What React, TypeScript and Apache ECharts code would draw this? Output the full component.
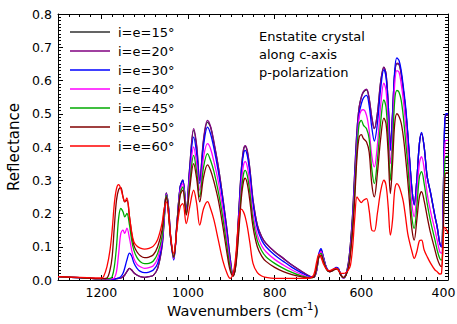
import React, { useEffect, useRef } from 'react';
import * as echarts from 'echarts';

const FONT = 'DejaVu Sans';

const seriesNames = ['i=e=15°', 'i=e=20°', 'i=e=30°', 'i=e=40°', 'i=e=45°', 'i=e=50°', 'i=e=60°'];
const seriesColors = ['#303030', '#800080', '#0000ff', '#ff00ff', '#00aa00', '#800000', '#ff0000'];
const xTicks = [400, 600, 800, 1000, 1200];
const yTicks = [0, 0.1, 0.2, 0.3, 0.4, 0.5, 0.6, 0.7, 0.8];

const wn = [
  1300, 1250, 1200, 1195, 1187, 1180, 1175, 1170, 1165, 1160,
  1155, 1150, 1146, 1141, 1135, 1130, 1125, 1118, 1110, 1100,
  1090, 1080, 1070, 1060, 1055, 1050, 1045, 1040, 1033, 1025,
  1018, 1012, 1004, 996, 987, 980, 973, 964, 955, 948,
  940, 930, 920, 910, 903, 896, 890, 883, 877, 872,
  868, 863, 857, 850, 840, 830, 820, 800, 780, 760,
  740, 720, 710, 703, 698, 693, 688, 680, 673, 665,
  658, 653, 647, 641, 636, 630, 625, 620, 615, 610,
  605, 600, 595, 588, 582, 576, 570, 563, 555, 548,
  543, 538, 533, 528, 523, 518, 513, 508, 503, 498,
  493, 488, 483, 478, 472, 466, 461, 455, 448, 440,
  430, 425, 419, 415, 411, 408, 405, 400,
];

const r15 = [
  .010, .007, .004, .004, .003, .003, .003, .003, .004, .005,
  .006, .010, .015, .025, .035, .030, .022, .015, .010, .008,
  .010, .014, .035, .100, .180, .262, .220, .130, .065, .180,
  .280, .300, .210, .340, .450, .400, .300, .420, .475, .460,
  .410, .340, .250, .150, .070, .015, .050, .200, .330, .390,
  .402, .385, .330, .240, .165, .130, .110, .085, .065, .045,
  .028, .012, .008, .030, .075, .090, .070, .035, .025, .030,
  .036, .034, .015, .006, .015, .050, .110, .200, .330, .450,
  .520, .550, .565, .572, .545, .490, .455, .500, .600, .640,
  .620, .530, .405, .500, .620, .650, .648, .620, .570, .515,
  .440, .350, .270, .228, .300, .410, .440, .400, .310, .260,
  .190, .160, .110, .100, .250, .450, .495, .495,
];

const r20 = [
  .010, .007, .004, .004, .003, .003, .003, .003, .004, .005,
  .006, .010, .015, .025, .035, .030, .022, .015, .010, .008,
  .010, .014, .035, .100, .180, .262, .220, .130, .065, .180,
  .280, .300, .210, .340, .455, .405, .300, .425, .480, .462,
  .415, .340, .250, .150, .070, .015, .050, .200, .330, .392,
  .404, .388, .332, .242, .165, .130, .110, .085, .065, .045,
  .028, .012, .008, .030, .075, .090, .070, .035, .025, .030,
  .036, .034, .015, .006, .015, .050, .110, .200, .330, .450,
  .520, .550, .567, .574, .547, .490, .455, .500, .600, .640,
  .620, .530, .405, .500, .620, .652, .650, .620, .570, .515,
  .440, .350, .270, .228, .300, .410, .440, .400, .310, .260,
  .190, .160, .110, .100, .250, .450, .495, .495,
];

const r30 = [
  .010, .007, .004, .004, .003, .003, .003, .003, .004, .006,
  .010, .020, .036, .060, .081, .072, .052, .036, .026, .022,
  .024, .030, .050, .110, .185, .260, .215, .125, .060, .175,
  .280, .300, .210, .330, .430, .380, .290, .405, .460, .440,
  .395, .325, .240, .140, .060, .013, .048, .190, .320, .378,
  .390, .373, .318, .230, .155, .120, .100, .075, .056, .038,
  .023, .010, .008, .030, .078, .094, .072, .036, .025, .031,
  .038, .035, .015, .006, .014, .045, .100, .185, .310, .430,
  .500, .530, .548, .555, .525, .460, .418, .470, .580, .633,
  .610, .520, .390, .490, .630, .668, .660, .630, .580, .525,
  .445, .355, .270, .225, .300, .410, .444, .400, .311, .262,
  .192, .160, .110, .100, .250, .460, .500, .500,
];

const r40 = [
  .010, .007, .004, .004, .003, .003, .004, .006, .025, .080,
  .140, .150, .140, .156, .125, .090, .065, .048, .040, .035,
  .037, .043, .065, .120, .190, .258, .210, .125, .065, .175,
  .270, .290, .205, .310, .400, .350, .270, .370, .410, .395,
  .355, .295, .215, .120, .050, .012, .045, .170, .290, .345,
  .356, .340, .285, .200, .135, .103, .085, .062, .045, .030,
  .018, .008, .008, .030, .072, .085, .066, .034, .025, .030,
  .035, .032, .014, .006, .014, .040, .090, .170, .290, .410,
  .490, .510, .512, .495, .450, .375, .340, .405, .530, .592,
  .570, .470, .350, .440, .590, .630, .625, .590, .540, .470,
  .390, .300, .225, .190, .260, .350, .371, .335, .260, .205,
  .150, .120, .085, .080, .200, .380, .420, .420,
];

const r45 = [
  .010, .007, .004, .004, .004, .005, .010, .040, .100, .187,
  .215, .205, .190, .200, .165, .120, .090, .068, .055, .049,
  .050, .057, .080, .130, .200, .255, .205, .125, .068, .170,
  .260, .280, .200, .290, .375, .325, .250, .340, .380, .360,
  .325, .265, .190, .100, .040, .012, .042, .155, .265, .318,
  .330, .313, .260, .180, .118, .088, .070, .050, .035, .023,
  .013, .007, .008, .035, .070, .080, .062, .032, .025, .029,
  .034, .031, .014, .007, .013, .037, .085, .160, .270, .390,
  .470, .480, .465, .455, .425, .335, .290, .360, .480, .542,
  .520, .420, .300, .400, .540, .570, .565, .540, .490, .420,
  .350, .260, .185, .155, .220, .310, .326, .290, .230, .175,
  .120, .090, .065, .060, .170, .330, .372, .372,
];

const r50 = [
  .010, .007, .004, .004, .006, .030, .070, .160, .240, .272,
  .278, .250, .235, .240, .190, .140, .105, .085, .073, .067,
  .069, .076, .100, .150, .210, .250, .200, .125, .070, .170,
  .255, .270, .195, .275, .350, .305, .235, .310, .346, .330,
  .295, .240, .165, .080, .030, .012, .040, .140, .245, .295,
  .306, .288, .235, .160, .100, .072, .056, .038, .025, .016,
  .010, .006, .008, .040, .068, .075, .058, .031, .025, .029,
  .033, .030, .014, .008, .013, .035, .080, .150, .250, .370,
  .430, .437, .425, .415, .385, .290, .250, .320, .430, .487,
  .470, .380, .260, .350, .470, .500, .492, .472, .430, .370,
  .300, .220, .150, .120, .180, .250, .266, .238, .190, .140,
  .090, .065, .045, .040, .140, .280, .322, .322,
];

const r60 = [
  .010, .008, .006, .010, .040, .090, .150, .230, .275, .287,
  .275, .250, .236, .247, .190, .145, .115, .102, .096, .093,
  .095, .102, .122, .170, .215, .235, .200, .130, .080, .160,
  .220, .230, .170, .220, .270, .230, .165, .215, .236, .215,
  .180, .120, .060, .020, .005, .020, .070, .180, .213, .205,
  .190, .160, .110, .050, .022, .012, .008, .005, .005, .005,
  .005, .006, .015, .055, .077, .068, .050, .032, .028, .033,
  .036, .030, .020, .020, .022, .030, .045, .100, .190, .250,
  .240, .233, .240, .245, .210, .150, .147, .200, .270, .300,
  .285, .220, .135, .180, .270, .290, .282, .262, .235, .190,
  .140, .110, .085, .065, .085, .118, .120, .090, .070, .050,
  .030, .025, .018, .020, .120, .158, .155, .140,
];

const allSeries = [r15, r20, r30, r40, r45, r50, r60];

export default function App() {
  const ref = useRef<HTMLDivElement>(null);
  useEffect(() => {
    const chart = echarts.init(ref.current!, null, { renderer: 'svg' });
    const axisLine = { show: true, onZero: false, lineStyle: { color: '#000', width: 1 } };
    const tick = { show: true, inside: true, length: 5, lineStyle: { color: '#000', width: 1 } };
    const xMinor = { show: true, splitNumber: 8, length: 3, lineStyle: { color: '#000', width: 1 } };
    const yMinor = { show: true, splitNumber: 10, length: 3, lineStyle: { color: '#000', width: 1 } };
    const xCommon = {
      type: 'value', min: 400, max: 1300, interval: 200, inverse: true,
      axisLine, axisTick: tick, minorTick: xMinor,
      splitLine: { show: false }, minorSplitLine: { show: false },
    };
    const yCommon = {
      type: 'value', min: 0, max: 0.8, interval: 0.1,
      axisLine, axisTick: tick, minorTick: yMinor,
      splitLine: { show: false }, minorSplitLine: { show: false },
    };
    chart.setOption({
      animation: false,
      backgroundColor: '#fff',
      grid: { left: 58, right: 9, top: 14, bottom: 44, outerBoundsMode: 'none' },
      legend: {
        show: true, orient: 'vertical', left: 70, top: 25, padding: 0,
        itemWidth: 40, itemHeight: 14, itemGap: 5,
        icon: 'path://M0,0 M40,14 M0,6.25 L40,6.25 L40,7.75 L0,7.75 Z',
        data: seriesNames,
        textStyle: { fontSize: 13, fontFamily: FONT, color: '#000', padding: [0, 0, 0, 3] },
      },
      xAxis: [
        {
          ...xCommon, position: 'bottom',
          axisLabel: {
            show: true, margin: 6, fontSize: 12.5, fontFamily: FONT, color: '#000',
            formatter: (v: number) => {
              if (xTicks.indexOf(v) < 0) return '';
              return v === 400 ? '{e|' + v + '}' : String(v);
            },
            rich: {
              e: { fontSize: 12.5, fontFamily: FONT, color: '#000', padding: [0, 9, 0, 0] },
            },
          },
        },
        { ...xCommon, position: 'top', axisLabel: { show: false } },
      ],
      yAxis: [
        {
          ...yCommon, position: 'left',
          name: 'Reflectance', nameLocation: 'middle', nameGap: 36,
          nameTextStyle: { fontSize: 15, fontFamily: FONT, color: '#000' },
          axisLabel: {
            show: true, margin: 6, fontSize: 12.5, fontFamily: FONT, color: '#000',
            formatter: (v: number) => {
              const t = yTicks.find((y) => Math.abs(y - v) < 1e-6);
              return t === undefined ? '' : t.toFixed(1);
            },
          },
        },
        { ...yCommon, position: 'right', axisLabel: { show: false } },
      ],
      graphic: [
        {
          type: 'text', left: 259, top: 27,
          style: {
            text: 'Enstatite crystal\nalong c-axis\np-polarization',
            fontSize: 13, fontFamily: FONT, fill: '#000', lineHeight: 18,
          },
        },
        {
          type: 'text', x: 167, y: 311,
          style: {
            text: '{a|Wavenumbers (cm}{s|-1}{a|)}',
            verticalAlign: 'middle', align: 'left',
            rich: {
              a: { fontSize: 14.5, fontFamily: FONT, fill: '#000', lineHeight: 20 },
              s: { fontSize: 10, fontFamily: FONT, fill: '#000', verticalAlign: 'top', lineHeight: 12 },
            },
          },
        },
      ],
      series: allSeries.map((vals, k) => ({
        name: seriesNames[k],
        type: 'line',
        xAxisIndex: 0,
        yAxisIndex: 0,
        data: wn.map((w, i) => [w, vals[i]]),
        showSymbol: false,
        symbol: 'none',
        smooth: 0.35,
        lineStyle: { color: seriesColors[k], width: 1.3 },
        itemStyle: { color: seriesColors[k] },
        emphasis: { disabled: true },
      })),
    });
    return () => chart.dispose();
  }, []);
  return (
    <div
      ref={ref}
      style={{ position: 'fixed', left: 0, top: 0, width: 457, height: 324, background: '#fff' }}
    />
  );
}
